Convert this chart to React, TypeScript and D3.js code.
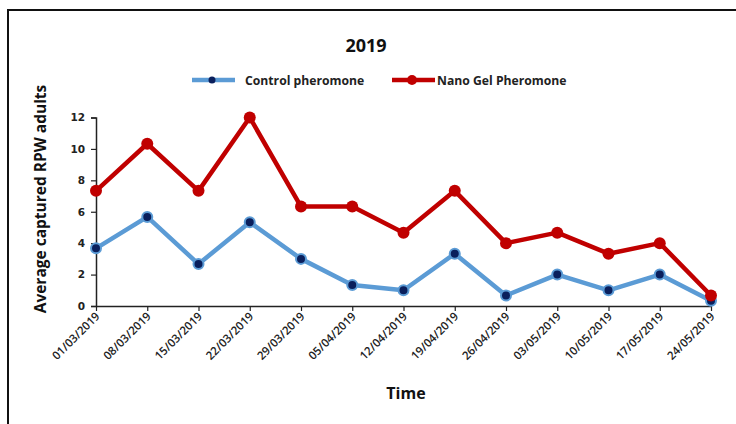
import React, { useEffect, useRef } from "react";
import * as d3 from "d3";

const dates = [
  "01/03/2019", "08/03/2019", "15/03/2019", "22/03/2019", "29/03/2019",
  "05/04/2019", "12/04/2019", "19/04/2019", "26/04/2019", "03/05/2019",
  "10/05/2019", "17/05/2019", "24/05/2019",
];
const control = [3.67, 5.67, 2.67, 5.33, 3.0, 1.33, 1.0, 3.33, 0.67, 2.0, 1.0, 2.0, 0.33];
const nanoGel = [7.33, 10.33, 7.33, 12.0, 6.33, 6.33, 4.67, 7.33, 4.0, 4.67, 3.33, 4.0, 0.67];
const yTicks = [0, 2, 4, 6, 8, 10, 12];

const W = 736;
const H = 424;
const font = "'Open Sans', sans-serif";

const App = () => {
  const ref = useRef<SVGSVGElement>(null);

  useEffect(() => {
    const svg = d3.select(ref.current);
    svg.selectAll("*").remove();

    // frame
    svg
      .append("rect")
      .attr("x", 8)
      .attr("y", 10)
      .attr("width", 740)
      .attr("height", 430)
      .attr("fill", "white")
      .attr("stroke", "#111")
      .attr("stroke-width", 2);

    const x = d3.scalePoint<string>().domain(dates).range([96, 711]);
    const y = d3.scaleLinear().domain([0, 12]).range([306, 117.5]);

    // y axis
    const yAxis = svg
      .append("g")
      .attr("transform", "translate(96,0)")
      .call(d3.axisLeft(y).tickValues(yTicks).tickSize(5).tickPadding(6));
    yAxis.select(".domain").attr("stroke", "#222").attr("stroke-width", 1.5);
    yAxis.selectAll(".tick line").attr("stroke", "#222").attr("stroke-width", 1.2);
    yAxis
      .selectAll("text")
      .attr("font-family", "'DejaVu Sans', sans-serif")
      .attr("font-weight", "bold")
      .attr("font-size", 10.5)
      .attr("fill", "#222");

    // x axis
    const xAxis = svg
      .append("g")
      .attr("transform", "translate(0,306)")
      .call(d3.axisBottom(x).tickSize(5).tickSizeOuter(0));
    xAxis.select(".domain").attr("stroke", "#222").attr("stroke-width", 1.5);
    xAxis.selectAll(".tick line").attr("stroke", "#222").attr("stroke-width", 1.2);
    xAxis
      .selectAll("text")
      .attr("font-family", font)
      .attr("font-weight", 600)
      .attr("font-size", 11.5)
      .attr("fill", "#222")
      .attr("text-anchor", "end")
      .attr("dy", null)
      .attr("y", null)
      .attr("transform", "translate(4,11) rotate(-45)");

    const line = d3
      .line<number>()
      .x((_, i) => x(dates[i]) as number)
      .y((d) => y(d));

    // control series
    svg
      .append("path")
      .datum(control)
      .attr("fill", "none")
      .attr("stroke", "#5B9BD5")
      .attr("stroke-width", 4.5)
      .attr("stroke-linejoin", "round")
      .attr("d", line);
    svg
      .append("g")
      .selectAll("circle")
      .data(control)
      .join("circle")
      .attr("cx", (_, i) => x(dates[i]) as number)
      .attr("cy", (d) => y(d))
      .attr("r", 5)
      .attr("fill", "#0A1F5C")
      .attr("stroke", "#5B9BD5")
      .attr("stroke-width", 2);

    // nano gel series
    svg
      .append("path")
      .datum(nanoGel)
      .attr("fill", "none")
      .attr("stroke", "#C00000")
      .attr("stroke-width", 4.5)
      .attr("stroke-linejoin", "round")
      .attr("d", line);
    svg
      .append("g")
      .selectAll("circle")
      .data(nanoGel)
      .join("circle")
      .attr("cx", (_, i) => x(dates[i]) as number)
      .attr("cy", (d) => y(d))
      .attr("r", 6)
      .attr("fill", "#C00000");

    // title
    svg
      .append("text")
      .attr("x", 366)
      .attr("y", 52)
      .attr("text-anchor", "middle")
      .attr("font-family", font)
      .attr("font-weight", "bold")
      .attr("font-size", 18)
      .attr("fill", "#111")
      .text("2019");

    // legend
    const legend = [
      { name: "Control pheromone", color: "#5B9BD5", x0: 192, tx: 245, dot: "#0A1F5C", r: 3.5 },
      { name: "Nano Gel Pheromone", color: "#C00000", x0: 392, tx: 437, dot: "#C00000", r: 5 },
    ];
    const lg = svg.append("g").selectAll("g").data(legend).join("g");
    lg.append("line")
      .attr("x1", (d) => d.x0)
      .attr("x2", (d) => d.x0 + 43)
      .attr("y1", 80)
      .attr("y2", 80)
      .attr("stroke", (d) => d.color)
      .attr("stroke-width", 4.5);
    lg.append("circle")
      .attr("cx", (d) => d.x0 + 20)
      .attr("cy", 80)
      .attr("r", (d) => d.r)
      .attr("fill", (d) => d.dot);
    lg.append("text")
      .attr("x", (d) => d.tx)
      .attr("y", 84.5)
      .attr("font-family", font)
      .attr("font-weight", "bold")
      .attr("font-size", 12.2)
      .attr("fill", "#222")
      .text((d) => d.name);

    // axis titles
    svg
      .append("text")
      .attr("transform", "translate(46,199) rotate(-90)")
      .attr("text-anchor", "middle")
      .attr("font-family", font)
      .attr("font-weight", "bold")
      .attr("font-size", 15.5)
      .attr("fill", "#111")
      .text("Average captured RPW adults");
    svg
      .append("text")
      .attr("x", 406)
      .attr("y", 399)
      .attr("text-anchor", "middle")
      .attr("font-family", font)
      .attr("font-weight", "bold")
      .attr("font-size", 16)
      .attr("fill", "#111")
      .text("Time");
  }, []);

  return (
    <svg
      ref={ref}
      width={W}
      height={H}
      style={{ position: "absolute", left: 0, top: 0, display: "block" }}
    />
  );
};

export default App;
